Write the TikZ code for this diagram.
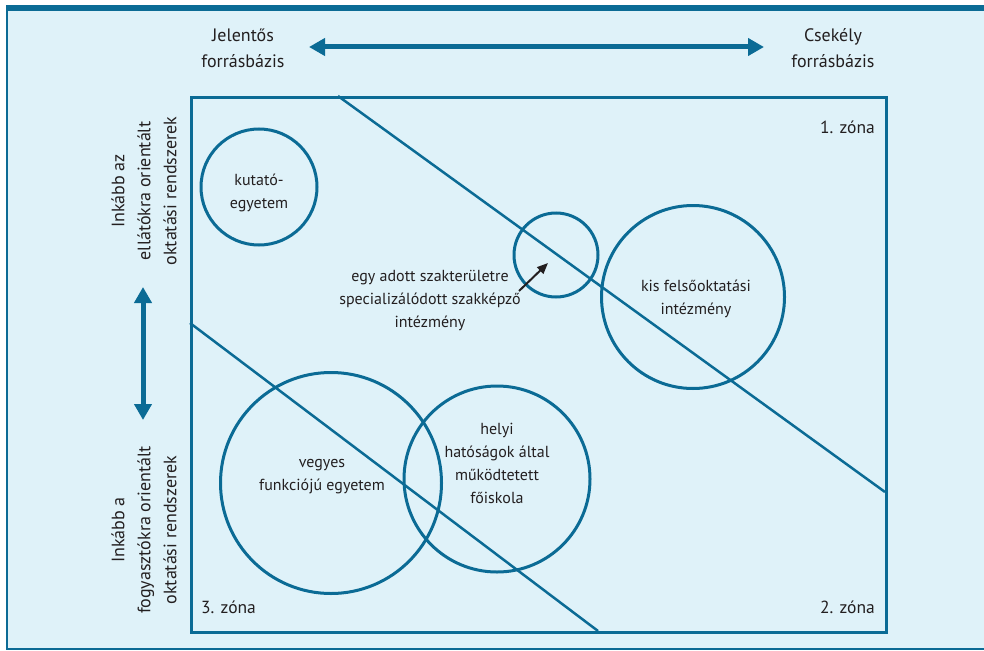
\documentclass[tikz,border=0pt]{standalone}
\usepackage{fontspec}
\setmainfont{PT Sans}
\usetikzlibrary{arrows.meta}
\definecolor{frame}{HTML}{0B6B95}
\definecolor{panel}{HTML}{DFF2F9}
\definecolor{ink}{HTML}{231F20}
\tikzset{
  ring/.style={draw=frame, line width=3pt, circle, inner sep=0pt},
  divider/.style={draw=frame, line width=2.5pt},
  lbl/.style={text=ink, align=center, inner sep=0pt, font=\fontsize{16}{23}\selectfont},
  zone/.style={text=ink, inner sep=0pt, font=\fontsize{17.5}{23}\selectfont},
  head/.style={text=ink, align=center, inner sep=0pt, font=\fontsize{18}{26}\selectfont},
  axis/.style={draw=frame, line width=5pt, {Triangle[length=16pt,width=17pt]}-{Triangle[length=16pt,width=17pt]}},
  pointer/.style={draw=ink, line width=2pt, -{Triangle[length=11pt,width=9pt]}}
}
\begin{document}
\begin{tikzpicture}[x=1pt,y=-1pt]
\useasboundingbox (0,0) rectangle (984,650);
% panel background with top bar, left rule and bottom rule
\fill[white] (0,0) rectangle (984,650);
\fill[panel] (6,5) rectangle (984,650);
\fill[frame] (6,5) rectangle (984,11);
\fill[frame] (6,5) rectangle (7.5,650);
\fill[frame] (6,647.5) rectangle (984,650);

% axis labels
\node[head] (jel) at (243,48) {Jelentős\\forrásbázis};
\node[head] (csek) at (833,48) {Csekély\\forrásbázis};
\coordinate (hl) at (309,47);
\coordinate (hr) at (764,47);
\draw[axis] (hl) -- (hr);

\node[head, rotate=90] (ell) at (144,191) {Inkább az\\ellátókra orientált\\oktatási rendszerek};
\node[head, rotate=90] (fogy) at (144,530) {Inkább a\\fogyasztókra orientált\\oktatási rendszerek};
\coordinate (vt) at (143,287);
\coordinate (vb) at (143,420);
\draw[axis] (vt) -- (vb);

% main field
\node[draw=frame, line width=3pt, minimum width=695pt, minimum height=535pt, inner sep=0pt, anchor=north west] (field) at (190,96) {};

% zone borders
\coordinate (a1) at (338,96);
\coordinate (a2) at (885,492);
\coordinate (b1) at (190,323);
\coordinate (b2) at (598,631);
\draw[divider] (a1) -- (a2);
\draw[divider] (b1) -- (b2);

% institutions
\node[ring, minimum size=116pt] (kut) at (259,187) {};
\node[lbl] (kuttxt) at (259,193) {kutató-\\egyetem};

\node[ring, minimum size=84pt] (szak) at (556,255) {};
\node[lbl] (szaktxt) at (430,301) {egy adott szakterületre\\specializálódott szakképző\\intézmény};
\coordinate (p1) at (519,291);
\coordinate (p2) at (548,263);
\draw[pointer] (p1) -- (p2);

\node[ring, minimum size=183pt] (kis) at (693,297) {};
\node[lbl] (kistxt) at (696,299) {kis felsőoktatási\\intézmény};

\node[ring, minimum size=221pt] (veg) at (331,483) {};
\node[lbl] (vegtxt) at (322,477) {vegyes\\funkciójú egyetem};

\node[ring, minimum size=186pt] (hely) at (497,479) {};
\node[lbl] (helytxt) at (497,463) {helyi\\hatóságok által\\működtetett\\főiskola};

% zone names
\node[zone, anchor=base east] (z1) at (875,133) {1. zóna};
\node[zone, anchor=base east] (z2) at (875,613) {2. zóna};
\node[zone, anchor=base west] (z3) at (201,613) {3. zóna};
\end{tikzpicture}
\end{document}
